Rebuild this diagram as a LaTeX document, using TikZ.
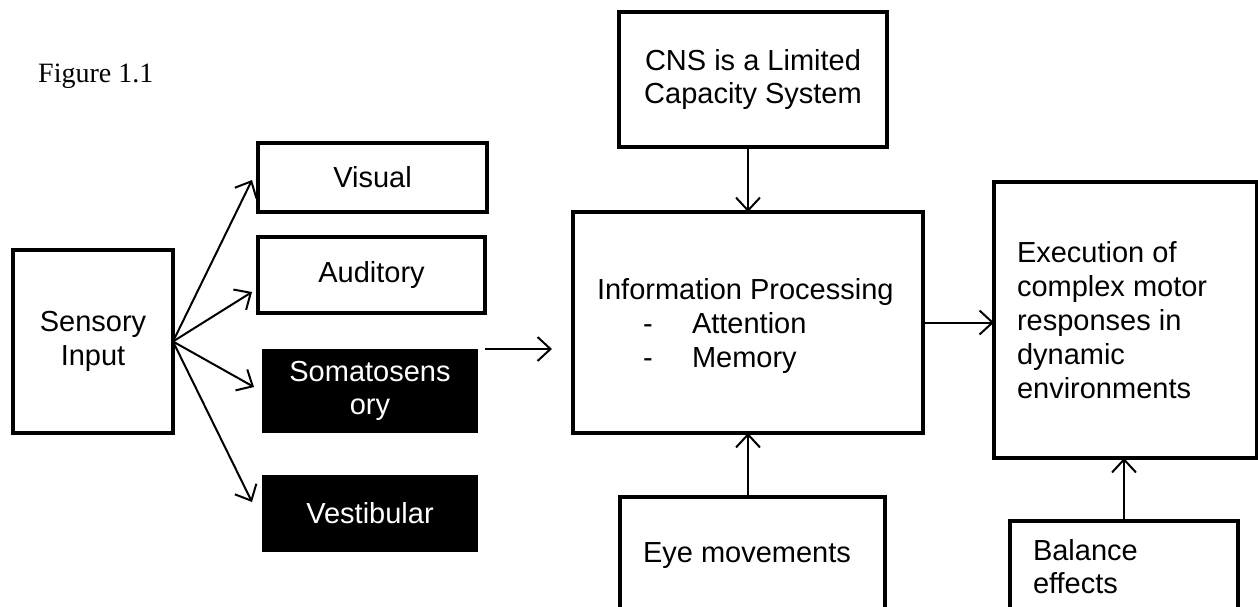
\documentclass[tikz,border=0pt]{standalone}
\usepackage{fontspec}
\setmainfont{Liberation Serif}
\setsansfont{Liberation Sans}
\usetikzlibrary{arrows.meta}
\begin{document}
\begin{tikzpicture}[x=1pt,y=-1pt,
  box/.style={draw, line width=4pt, rectangle, inner sep=0pt, outer sep=0pt,
    font=\sffamily\fontsize{29}{33.5}\selectfont, align=center},
  blk/.style={rectangle, inner sep=0pt, outer sep=0pt, fill=black, text=white,
    font=\sffamily\fontsize{29}{33}\selectfont, align=center},
  lbl/.style={inner sep=0pt, outer sep=0pt, anchor=base west,
    font=\sffamily\fontsize{29}{34}\selectfont},
  arr/.style={line width=2pt, -{Straight Barb[length=13pt,width=24pt]}}]
\useasboundingbox (0,0) rectangle (1258,606);
\fill[white] (0,0) rectangle (1258,606);

\node[inner sep=0pt, anchor=base west, font=\fontsize{28}{32}\selectfont] (fig) at (38,82) {Figure 1.1};

% left column
\node[box, minimum width=160pt, minimum height=183pt] (sens) at (93,341.5) {Sensory\\Input};
\node[box, minimum width=229pt, minimum height=69pt] (vis) at (372.5,177.5) {Visual};
\node[box, minimum width=227pt, minimum height=76pt] (aud) at (371.5,275) {Auditory};
\node[blk, minimum width=216pt, minimum height=84pt] (som) at (370,391) {Somatosens\\ory};
\node[blk, minimum width=216pt, minimum height=77pt] (ves) at (370,513.5) {Vestibular};

\coordinate (tv) at (252,180);
\coordinate (ta) at (252,292);
\coordinate (ts) at (254,387);
\coordinate (tb) at (252,502);
\draw[arr] (sens.east) -- (tv);
\draw[arr] (sens.east) -- (ta);
\draw[arr] (sens.east) -- (ts);
\draw[arr] (sens.east) -- (tb);

\coordinate (fa) at (485,349);
\coordinate (fb) at (552,349);
\draw[arr] (fa) -- (fb);

% middle column
\node[box, minimum width=268pt, minimum height=135pt] (cns) at (753,79.5) {CNS is a Limited\\Capacity System};
\node[box, minimum width=350pt, minimum height=221pt] (info) at (748,322.5) {};
\node[lbl] (i1) at (597,299) {Information Processing};
\node[lbl] (i2) at (643,333) {-};
\node[lbl] (i3) at (692,333) {Attention};
\node[lbl] (i4) at (643,367) {-};
\node[lbl] (i5) at (692,367) {Memory};

\node[box, minimum width=265pt, minimum height=123pt] (eye) at (752.5,558.5) {};
\node[lbl] (eyet) at (643,562) {Eye movements};

\coordinate (cx) at (748,0);
\draw[arr] (cx |- cns.south) -- (cx |- info.north);
\draw[arr] (cx |- eye.north) -- (cx |- info.south);

% right column
\node[box, minimum width=263pt, minimum height=276pt] (exec) at (1125.5,320) {};
\node[lbl] (e1) at (1017,262) {Execution of};
\node[lbl] (e2) at (1017,296) {complex motor};
\node[lbl] (e3) at (1017,330) {responses in};
\node[lbl] (e4) at (1017,364) {dynamic};
\node[lbl] (e5) at (1017,398) {environments};

\node[box, minimum width=228pt, minimum height=99pt] (bal) at (1124,570.5) {};
\node[lbl] (b1) at (1033,560) {Balance};
\node[lbl] (b2) at (1033,593) {effects};

\draw[arr] (info.east) -- (info.east -| exec.west);
\draw[arr] (bal.north) -- (bal.north |- exec.south);
\end{tikzpicture}
\end{document}
